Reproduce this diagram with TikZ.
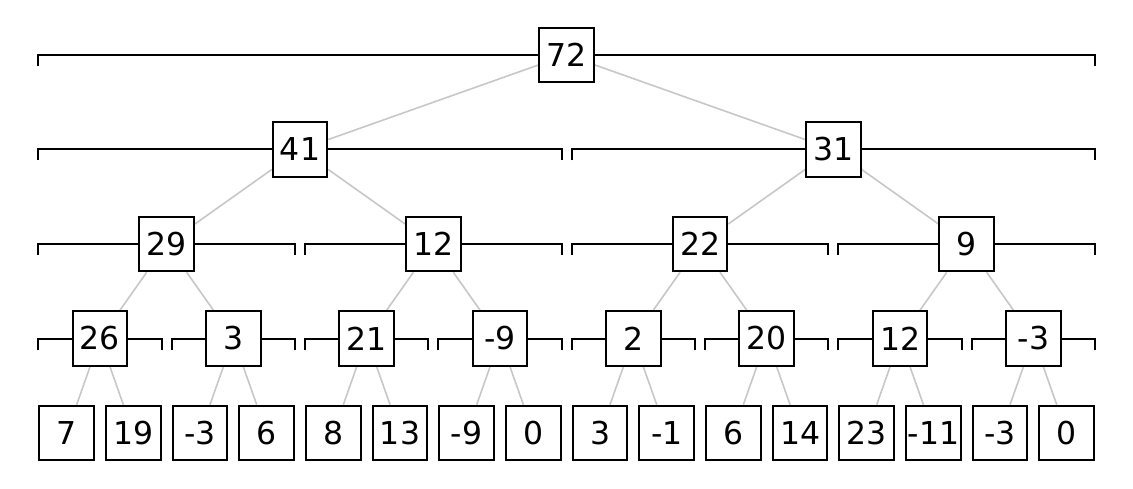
\documentclass[tikz,border=0pt]{standalone}
\usepackage{fontspec}
\setmainfont{DejaVu Sans}
\usetikzlibrary{calc}
\pgfdeclarelayer{bg}
\pgfsetlayers{bg,main}
\tikzset{
  box/.style={draw=black, fill=white, line width=2pt, minimum size=54.5pt, inner sep=0pt,
    font=\fontsize{31.5}{36}\selectfont},
  edge/.style={draw=black!22, line width=1.6pt},
  bracket/.style={draw=black, line width=2pt}
}
\begin{document}
\begin{tikzpicture}[x=1pt,y=-1pt]
\useasboundingbox (0,0) rectangle (1133,489);
\foreach \d/\vals in {0/{72},1/{41,31},2/{29,12,22,9},3/{26,3,21,-9,2,20,12,-3},4/{7,19,-3,6,8,13,-9,0,3,-1,6,14,23,-11,-3,0}} {
  \pgfmathtruncatemacro\base{2^\d}
  \pgfmathtruncatemacro\spn{16/\base}
  \foreach \v [count=\i from 0] in \vals {
    \pgfmathtruncatemacro\k{\base+\i}
    \pgfmathsetmacro\xx{66.67*(\i*\spn + (\spn-1)/2) + 66.67}
    \pgfmathsetmacro\yy{55+94.5*\d}
    \node[box] (n\k) at (\xx,\yy) {\v};
  }
}
\begin{pgfonlayer}{bg}
\foreach \k in {1,...,15} {
  \pgfmathtruncatemacro\a{2*\k}
  \pgfmathtruncatemacro\b{2*\k+1}
  \draw[edge] (n\k) -- (n\a);
  \draw[edge] (n\k) -- (n\b);
  \pgfmathtruncatemacro\d{(\k>=2)+(\k>=4)+(\k>=8)}
  \pgfmathtruncatemacro\m{16/(2^\d)}
  \pgfmathtruncatemacro\lo{\k*\m}
  \pgfmathtruncatemacro\hi{(\k+1)*\m-1}
  \draw[bracket] ([yshift=-11pt]n\lo.west |- n\k.center) -- (n\lo.west |- n\k.center)
     -- (n\hi.east |- n\k.center) -- ([yshift=-11pt]n\hi.east |- n\k.center);
}
\end{pgfonlayer}
\end{tikzpicture}
\end{document}
